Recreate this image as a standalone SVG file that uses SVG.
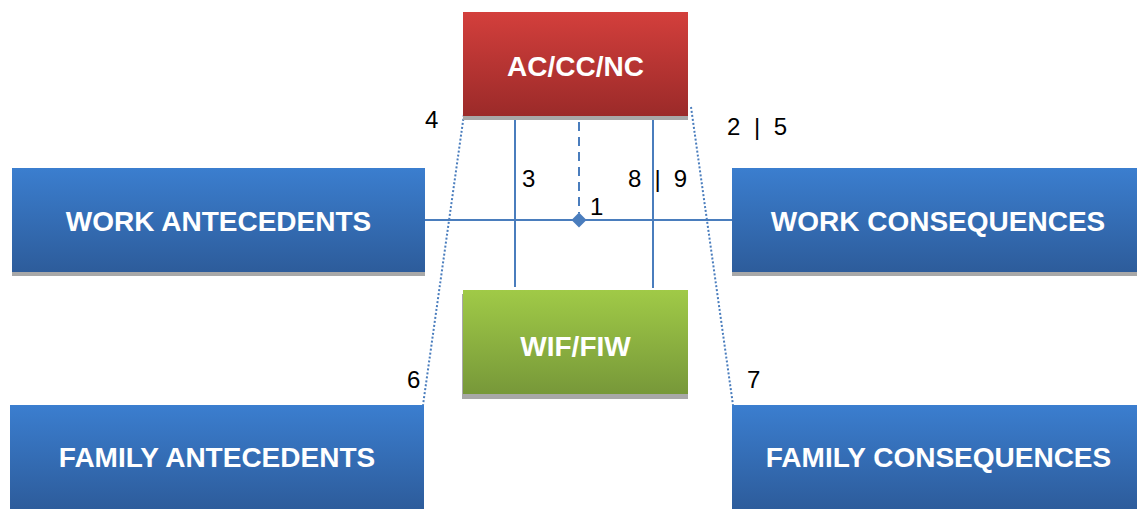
<svg xmlns="http://www.w3.org/2000/svg" width="1137" height="509" viewBox="0 0 1137 509">
<defs>
<linearGradient id="gBlue" x1="0" y1="0" x2="0" y2="1"><stop offset="0" stop-color="#3b7ecf"/><stop offset="1" stop-color="#2d5c9b"/></linearGradient>
<linearGradient id="gRed" x1="0" y1="0" x2="0" y2="1"><stop offset="0" stop-color="#d33f3c"/><stop offset="1" stop-color="#9b2a29"/></linearGradient>
<linearGradient id="gGreen" x1="0" y1="0" x2="0" y2="1"><stop offset="0" stop-color="#a0ca47"/><stop offset="1" stop-color="#779839"/></linearGradient>
</defs>
<style>
.shadow{fill:#a8a8a8}
.lbl{font-family:"Liberation Sans",Arial,sans-serif;font-weight:bold;font-size:28px;fill:#ffffff;text-anchor:middle}
.num{font-family:"Liberation Sans",Arial,sans-serif;font-size:24px;fill:#000000}
.ln{stroke:#4a7dbd;stroke-width:2;fill:none}
.dot{stroke:#4a7dbd;stroke-width:2;fill:none;stroke-dasharray:2 2}
.dash{stroke:#4a7dbd;stroke-width:2;fill:none;stroke-dasharray:9 6}
</style>
<rect width="1137" height="509" fill="#ffffff"/>
<g id="connectors">
<line class="ln" x1="425" y1="220" x2="733" y2="220"/>
<line class="ln" x1="515" y1="112" x2="515" y2="287"/>
<line class="ln" x1="653" y1="113" x2="653" y2="288"/>
<line class="dash" x1="579" y1="122" x2="579" y2="213"/>
<line class="dot" x1="465" y1="107" x2="423" y2="405"/>
<line class="dot" x1="691" y1="107" x2="733" y2="405"/>
<polygon points="579,212.5 586.5,220 579,227.5 571.5,220" fill="#4a7dbd"/>
<text class="num" x="590" y="215">1</text>
<text class="num" x="727" y="135" textLength="60" lengthAdjust="spacing">2 | 5</text>
<text class="num" x="522" y="187">3</text>
<text class="num" x="425" y="128">4</text>
<text class="num" x="628" y="187" textLength="59" lengthAdjust="spacing">8 | 9</text>
<text class="num" x="407" y="388">6</text>
<text class="num" x="747" y="388">7</text>
</g>
<g id="accnc">
<rect class="shadow" x="463" y="16" width="225" height="104"/>
<rect x="463" y="12" width="225" height="104" fill="url(#gRed)"/>
<text class="lbl" x="575.5" y="76">AC/CC/NC</text>
</g>
<g id="wiffiw">
<rect class="shadow" x="462" y="294" width="226" height="105"/>
<rect x="463" y="290" width="225" height="104" fill="url(#gGreen)"/>
<text class="lbl" x="575.5" y="356">WIF/FIW</text>
</g>
<g id="work-antecedents">
<rect class="shadow" x="12" y="172" width="413" height="104"/>
<rect x="12" y="168" width="413" height="104" fill="url(#gBlue)"/>
<text class="lbl" x="218.5" y="231">WORK ANTECEDENTS</text>
</g>
<g id="work-consequences">
<rect class="shadow" x="732" y="172" width="405" height="104"/>
<rect x="732" y="168" width="405" height="104" fill="url(#gBlue)"/>
<text class="lbl" x="938" y="231">WORK CONSEQUENCES</text>
</g>
<g id="family-antecedents">
<rect x="10" y="405" width="414" height="104" fill="url(#gBlue)"/>
<text class="lbl" x="217" y="467">FAMILY ANTECEDENTS</text>
</g>
<g id="family-consequences">
<rect x="732" y="405" width="405" height="104" fill="url(#gBlue)"/>
<text class="lbl" x="938.5" y="467">FAMILY CONSEQUENCES</text>
</g>
</svg>
